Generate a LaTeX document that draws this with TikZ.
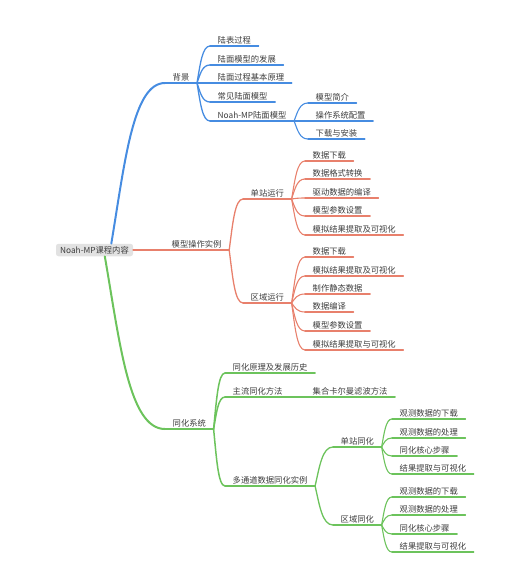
\documentclass[tikz,border=0pt]{standalone}
\usepackage{fontspec}
\newfontfamily\cjk{Noto Sans CJK SC}
\usetikzlibrary{calc}
\definecolor{blueC}{RGB}{70,140,225}
\definecolor{redC}{RGB}{232,128,108}
\definecolor{greenC}{RGB}{108,195,92}
\definecolor{txt}{RGB}{60,60,60}
\definecolor{rootfill}{RGB}{226,226,226}
\newcommand\mmconn[3]{\draw[#1] let \p1=(#2), \p2=(#3) in (\p1) .. controls ({\x1+0.25*(\x2-\x1)},{0.5*(\y1+\y2)}) and ({\x1+0.4*(\x2-\x1)},{\y2}) .. (\p2);}
\tikzset{
  base/.style={anchor=south west, font=\cjk\fontsize{8.3}{10}\selectfont, text=txt,
    inner xsep=7.5pt, inner ysep=1.8pt, text height=6.5pt, text depth=0.5pt},
  ul/.style={base, append after command={(\tikzlastnode.south west) edge[#1] (\tikzlastnode.south east)}},
  lineC/.style={line cap=round, fill=none},
  B1/.style={lineC, draw=blueC, line width=2pt},
  B2/.style={lineC, draw=blueC, line width=1.3pt},
  B3/.style={lineC, draw=blueC, line width=1.1pt},
  R1/.style={lineC, draw=redC, line width=1.8pt},
  R2/.style={lineC, draw=redC, line width=1.3pt},
  R3/.style={lineC, draw=redC, line width=1.1pt},
  G1/.style={lineC, draw=greenC, line width=2pt},
  G2/.style={lineC, draw=greenC, line width=1.5pt},
  G3/.style={lineC, draw=greenC, line width=1.3pt},
  G4/.style={lineC, draw=greenC, line width=1.1pt},
  rootbox/.style={fill=rootfill, rounded corners=2.5pt, font=\cjk\fontsize{8.3}{10}\selectfont,
    text=txt, minimum width=77pt, minimum height=12.5pt, inner xsep=3pt, inner ysep=1pt},
}
\begin{document}
\begin{tikzpicture}[x=1pt,y=-1pt]
\useasboundingbox (0,0) rectangle (529,587);
\node[rootbox] (root) at (94.5,250) {Noah-MP课程内容};

% ---------- blue branch ----------
\node[ul=B1] (bj) at (165,83) {背景};
\node[ul=B2] (b1) at (210,46) {陆表过程};
\node[ul=B2] (b2) at (210,65) {陆面模型的发展};
\node[ul=B2] (b3) at (210,83) {陆面过程基本原理};
\node[ul=B2] (b4) at (210,102) {常见陆面模型};
\node[ul=B2] (b5) at (210,121) {Noah-MP陆面模型};
\node[ul=B3] (b51) at (308,103) {模型简介};
\node[ul=B3] (b52) at (308,121) {操作系统配置};
\node[ul=B3] (b53) at (308,139) {下载与安装};
\mmconn{B1}{root.21}{bj.south west}
\foreach \k in {b1,b2,b3,b4,b5}{\mmconn{B2}{bj.south east}{\k.south west}}
\foreach \k in {b51,b52,b53}{\mmconn{B3}{b5.south east}{\k.south west}}

% ---------- red branch ----------
\node[ul=R1] (mx) at (164,250) {模型操作实例};
\node[ul=R2] (dz) at (243,199) {单站运行};
\node[ul=R2] (qy) at (243,303) {区域运行};
\node[ul=R3] (d1) at (305,161) {数据下载};
\node[ul=R3] (d2) at (305,179) {数据格式转换};
\node[ul=R3] (d3) at (305,198) {驱动数据的编译};
\node[ul=R3] (d4) at (305,216) {模型参数设置};
\node[ul=R3] (d5) at (305,235) {模拟结果提取及可视化};
\node[ul=R3] (q1) at (305,257) {数据下载};
\node[ul=R3] (q2) at (305,276) {模拟结果提取及可视化};
\node[ul=R3] (q3) at (305,294) {制作静态数据};
\node[ul=R3] (q4) at (305,312) {数据编译};
\node[ul=R3] (q5) at (305,331) {模型参数设置};
\node[ul=R3] (q6) at (305,350) {模拟结果提取与可视化};
\draw[R1] (root.east) -- (mx.south west);
\foreach \k in {dz,qy}{\mmconn{R2}{mx.south east}{\k.south west}}
\foreach \k in {d1,d2,d3,d4,d5}{\mmconn{R3}{dz.south east}{\k.south west}}
\foreach \k in {q1,q2,q3,q4,q5,q6}{\mmconn{R3}{qy.south east}{\k.south west}}

% ---------- green branch ----------
\node[ul=G1] (th) at (165,429) {同化系统};
\node[ul=G2] (t1) at (225,373) {同化原理及发展历史};
\node[ul=G2] (t2) at (225,397) {主流同化方法};
\node[ul=G3] (t21) at (305,397) {集合卡尔曼滤波方法};
\node[ul=G2] (t3) at (225,486) {多通道数据同化实例};
\node[ul=G3] (s) at (333,447) {单站同化};
\node[ul=G3] (r) at (333,525) {区域同化};
\node[ul=G4] (s1) at (392,419) {观测数据的下载};
\node[ul=G4] (s2) at (392,438) {观测数据的处理};
\node[ul=G4] (s3) at (392,456) {同化核心步骤};
\node[ul=G4] (s4) at (392,474) {结果提取与可视化};
\node[ul=G4] (r1) at (392,497) {观测数据的下载};
\node[ul=G4] (r2) at (392,515) {观测数据的处理};
\node[ul=G4] (r3) at (392,534) {同化核心步骤};
\node[ul=G4] (r4) at (392,552) {结果提取与可视化};
\mmconn{G1}{root.-32}{th.south west}
\foreach \k in {t1,t2,t3}{\mmconn{G2}{th.south east}{\k.south west}}
\draw[G3] (t2.south east) -- (t21.south west);
\foreach \k in {s,r}{\mmconn{G3}{t3.south east}{\k.south west}}
\foreach \k in {s1,s2,s3,s4}{\mmconn{G4}{s.south east}{\k.south west}}
\foreach \k in {r1,r2,r3,r4}{\mmconn{G4}{r.south east}{\k.south west}}
\end{tikzpicture}
\end{document}
